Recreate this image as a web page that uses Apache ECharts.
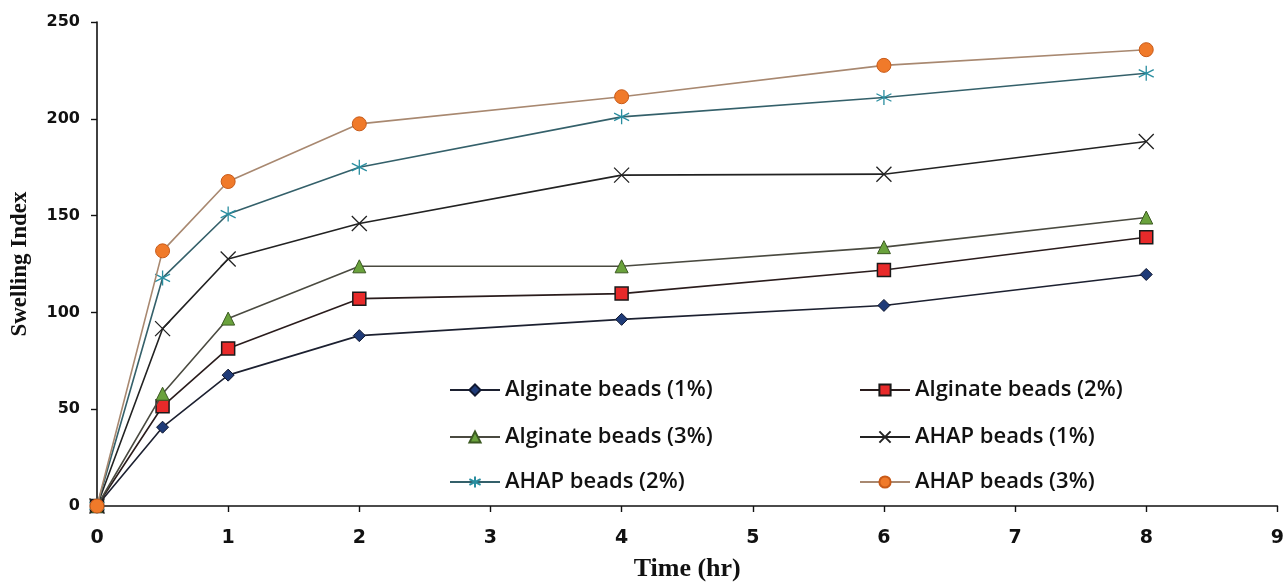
<!DOCTYPE html>
<html>
<head>
<meta charset="utf-8">
<script src="https://cdn.jsdelivr.net/npm/echarts@6/dist/echarts.min.js"></script>
<style>html,body{margin:0;padding:0;background:#fff}#c{width:1287px;height:587px}</style>
</head>
<body>
<div id="c"></div>
<script>
const times = [0, 0.5, 1, 2, 4, 6, 8];
const alg1 = [0, 40.7, 67.6, 88.0, 96.4, 103.6, 119.6];
const alg2 = [0, 51.5, 81.4, 107.1, 109.7, 121.9, 138.8];
const alg3 = [0, 58.0, 96.8, 123.8, 123.8, 133.7, 149.0];
const ahap1 = [0, 91.6, 127.6, 145.9, 170.9, 171.4, 188.3];
const ahap2 = [0, 117.8, 150.8, 175.0, 201.0, 211.0, 223.5];
const ahap3 = [0, 131.8, 167.6, 197.4, 211.4, 227.6, 235.7];
const names = ['Alginate beads (1%)','Alginate beads (2%)','Alginate beads (3%)','AHAP beads (1%)','AHAP beads (2%)','AHAP beads (3%)'];
const xTicks = [0,1,2,3,4,5,6,7,8,9];
const yTicks = [0,50,100,150,200,250];

const pair = arr => times.map((t,i)=>[t, arr[i]]);
const X_PATH = 'path://M0,0L10,10M10,0L0,10';
const STAR_PATH = 'path://M5,0L5,10M0.7,2.5L9.3,7.5M0.7,7.5L9.3,2.5';

const styles = [
  {symbol:'diamond', size:12, color:'#1f3b78', border:'#101830', bw:1, line:'#1c2030'},
  {symbol:'rect', size:13, color:'#e82a2a', border:'#1a1a1a', bw:1.5, line:'#2a1c1c'},
  {symbol:'triangle', size:13, color:'#6aa23c', border:'#3c5a22', bw:1, line:'#4a4a40'},
  {symbol:X_PATH, size:15, color:'#222', border:'#222', bw:1.3, line:'#222222'},
  {symbol:STAR_PATH, size:15, color:'#2a8ea0', border:'#2a8ea0', bw:1.3, line:'#34606a'},
  {symbol:'circle', size:14, color:'#f07a2a', border:'#c85a18', bw:1, line:'#a88870'}
];
const data = [alg1, alg2, alg3, ahap1, ahap2, ahap3];

const series = data.map((d,i)=>({
  name: names[i], type:'line', data: pair(d),
  symbol: styles[i].symbol, symbolSize: styles[i].size,
  clip:false,
  lineStyle:{color:styles[i].line, width:1.6},
  itemStyle:{color:styles[i].color, borderColor:styles[i].border, borderWidth:styles[i].bw},
  emphasis:{disabled:true}, z: 2+i
}));

const legendPos = [
  {left:444, top:373}, {left:854, top:373},
  {left:444, top:420}, {left:854, top:420},
  {left:444, top:465}, {left:854, top:465}
];
const legends = names.map((n,i)=>({
  data:[n], left:legendPos[i].left, top:legendPos[i].top,
  itemWidth:50, itemHeight:14, itemGap:4,
  textStyle:{fontFamily:'Open Sans', fontWeight:600, fontSize:22, lineHeight:24, color:'#111'},
  selectedMode:false
}));

const chart = echarts.init(document.getElementById('c'), null, {renderer:'canvas'});
chart.setOption({
  animation:false,
  backgroundColor:'#fff',
  grid:{left:97, right:7, top:22, bottom:75, containLabel:false},
  legend: legends,
  xAxis:{
    type:'value', min:xTicks[0], max:xTicks[xTicks.length-1], interval:1,
    name:'Time (hr)', nameLocation:'middle', nameGap:50,
    nameTextStyle:{fontFamily:'Liberation Serif', fontWeight:'bold', fontSize:26, color:'#111'},
    axisLine:{lineStyle:{color:'#111', width:1.6}},
    axisTick:{show:true, inside:false, length:6, lineStyle:{color:'#111', width:1.4}},
    axisLabel:{margin:23, fontFamily:'DejaVu Sans', fontWeight:'bold', fontSize:19, color:'#111'},
    splitLine:{show:false}
  },
  yAxis:{
    type:'value', min:yTicks[0], max:yTicks[yTicks.length-1], interval:50,
    name:'Swelling Index', nameLocation:'middle', nameGap:65, nameRotate:90,
    nameTextStyle:{fontFamily:'Liberation Serif', fontWeight:'bold', fontSize:23, color:'#111'},
    axisLine:{show:true, lineStyle:{color:'#111', width:1.6}},
    axisTick:{show:true, inside:false, length:6, lineStyle:{color:'#111', width:1.4}},
    axisLabel:{margin:17, fontFamily:'DejaVu Sans', fontWeight:'bold', fontSize:16, color:'#111'},
    splitLine:{show:false}
  },
  series: series
});
</script>
</body>
</html>
